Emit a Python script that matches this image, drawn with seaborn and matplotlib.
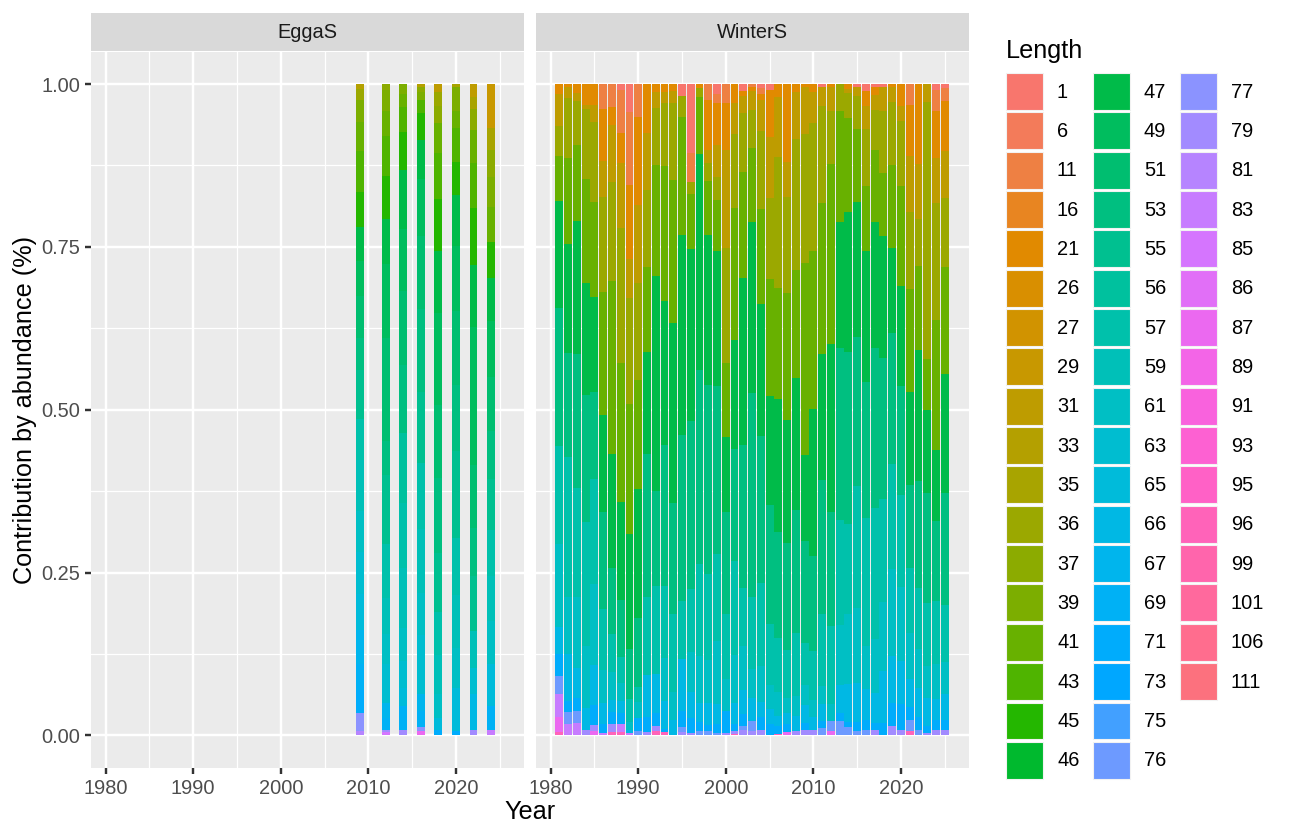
import numpy as np
import pandas as pd
import seaborn as sns
import matplotlib.pyplot as plt
from matplotlib.patches import Patch

plt.rcParams['font.family'] = ['Liberation Sans', 'DejaVu Sans']

# legend levels (factor order, first level is stacked on top)
length_levels = [1, 6, 11, 16, 21, 26, 27, 29, 31, 33, 35, 36, 37, 39, 41, 43, 45, 46,
                 47, 49, 51, 53, 55, 56, 57, 59, 61, 63, 65, 66, 67, 69, 71, 73, 75, 76,
                 77, 79, 81, 83, 85, 86, 87, 89, 91, 93, 95, 96, 99, 101, 106, 111]

# WinterS: % by length, one row per year
winter_lengths = [1, 11, 21, 31, 36, 41, 47, 53, 57, 61, 66, 71, 76, 79, 83, 87, 96]
winter_years = [1981, 1982, 1983, 1984, 1985, 1986, 1987, 1988, 1989, 1990,
                1991, 1992, 1993, 1994, 1995, 1996, 1997, 1998, 1999, 2000,
                2001, 2002, 2003, 2004, 2005, 2006, 2007, 2008, 2009, 2010,
                2011, 2012, 2013, 2014, 2015, 2016, 2017, 2018, 2019, 2020,
                2021, 2022, 2023, 2024, 2025]
winter_pct = [
    [0, 0, 1.5, 5.0, 4.6, 6.9, 16.5, 21.1, 15.1, 12.8, 4.1, 3.5, 2.7, 0, 3.5, 2.4, 0.5],
    [0, 0, 0.4, 1.8, 9.1, 13.3, 16.7, 16.0, 21.6, 8.7, 7.2, 1.7, 1.8, 0, 1.8, 0, 0],
    [0, 0, 1.4, 1.2, 6.7, 11.7, 20.3, 20.6, 16.7, 10.8, 4.6, 2.0, 1.9, 0, 1.9, 0, 0],
    [0, 0, 3.2, 0.7, 10.6, 16.1, 17.1, 19.6, 18.9, 9.6, 3.3, 0, 0, 0.9, 0, 0, 0],
    [0, 0, 3.2, 2.6, 12.3, 14.6, 14.6, 13.4, 16.2, 12.3, 6.2, 3.1, 0, 0.9, 0, 0.7, 0],
    [0, 3.8, 8.0, 5.5, 14.6, 18.9, 15.0, 14.9, 9.4, 5.0, 3.3, 1.3, 0, 0, 0.4, 0, 0],
    [0, 3.6, 2.7, 8.7, 15.3, 26.5, 17.5, 10.2, 5.9, 4.3, 1.8, 1.8, 0, 1.3, 0, 0, 0.5],
    [0.9, 6.6, 4.6, 10.0, 20.7, 21.3, 15.1, 8.7, 3.9, 2.8, 1.8, 1.8, 0, 0, 1.2, 0, 0.5],
    [4.3, 11.1, 11.3, 6.1, 16.2, 19.8, 17.6, 7.7, 3.5, 1.2, 0.5, 0, 0, 0, 0.4, 0, 0],
    [0, 5.0, 13.5, 12.0, 15.0, 16.6, 19.9, 10.5, 2.4, 2.4, 0, 2.0, 0.7, 0, 0, 0, 0],
    [0, 0, 7.5, 8.8, 11.8, 13.0, 15.7, 21.9, 11.9, 0, 6.5, 2.3, 0, 0.5, 0, 0, 0],
    [0, 0, 1.2, 2.5, 8.8, 17.0, 32.9, 14.7, 13.5, 0, 6.0, 1.9, 0, 0.8, 0, 0, 0.7],
    [0, 0, 1.2, 1.7, 9.6, 20.8, 22.0, 21.7, 11.0, 6.6, 4.3, 0.5, 0, 0, 0, 0, 0.5],
    [0, 0, 1.0, 1.9, 11.8, 22.0, 27.6, 17.1, 12.0, 4.2, 2.4, 0, 0, 0, 0, 0, 0],
    [1.9, 0, 0, 0, 3.1, 18.1, 30.7, 25.6, 8.8, 0, 8.0, 2.5, 0.8, 0.5, 0, 0, 0],
    [10.6, 4.4, 0, 0, 1.8, 8.5, 26.4, 25.7, 9.6, 6.2, 3.9, 2.3, 0, 0.4, 0, 0, 0],
    [0, 0, 0.6, 0, 1.4, 8.7, 33.2, 29.8, 14.1, 7.2, 2.9, 1.4, 0.7, 0, 0, 0, 0],
    [0, 2.4, 7.7, 2.0, 2.8, 8.2, 23.0, 29.1, 13.2, 6.5, 3.4, 0.9, 0.7, 0, 0, 0, 0],
    [1.6, 1.3, 6.4, 4.9, 3.6, 7.9, 20.7, 25.8, 13.3, 9.6, 3.1, 1.4, 0.4, 0, 0, 0, 0],
    [0, 2.9, 7.2, 15.0, 17.7, 11.4, 11.4, 15.6, 10.1, 4.9, 0, 3.3, 0, 0.4, 0, 0, 0],
    [0, 0, 2.9, 4.8, 11.3, 20.3, 16.6, 17.3, 14.3, 7.5, 3.1, 1.1, 0, 0.5, 0, 0, 0.2],
    [1.0, 0, 0.8, 2.6, 9.2, 16.4, 25.9, 22.1, 9.0, 6.8, 3.7, 1.8, 0.7, 0.8, 0, 0, 0],
    [0, 0.4, 0.7, 2.9, 5.8, 11.3, 26.3, 31.2, 11.1, 4.4, 3.6, 0, 1.5, 0.7, 0, 0, 0],
    [0.6, 0.9, 1.0, 4.7, 11.9, 14.6, 20.3, 22.5, 12.8, 5.5, 2.3, 1.9, 0, 0.9, 0, 0, 0],
    [0.9, 0, 7.2, 9.4, 12.5, 17.9, 16.7, 18.3, 9.3, 3.7, 2.4, 1.7, 0, 0, 0, 0, 0],
    [0, 0, 2.0, 9.2, 20.0, 17.1, 20.4, 16.2, 8.2, 3.7, 1.5, 1.3, 0, 0, 0, 0, 0.2],
    [0, 0, 12.0, 5.4, 14.7, 19.5, 18.8, 16.5, 7.3, 2.3, 1.8, 1.2, 0, 0, 0, 0.5, 0],
    [0, 0, 1.2, 7.3, 20.1, 16.6, 20.2, 18.8, 9.7, 3.1, 2.3, 0, 0, 0.7, 0, 0, 0],
    [0, 0, 0.4, 7.2, 19.8, 29.5, 13.2, 15.7, 6.4, 3.2, 2.7, 1.0, 0, 0.9, 0, 0, 0],
    [0, 0, 1.2, 4.8, 19.6, 24.4, 22.5, 14.7, 7.5, 2.6, 1.9, 0, 0, 0.9, 0, 0, 0],
    [0.5, 0, 0, 2.9, 14.8, 23.1, 19.4, 20.5, 11.0, 2.8, 2.6, 1.0, 1.2, 0, 0, 0, 0],
    [0, 0, 0.5, 3.7, 8.1, 27.6, 25.8, 17.5, 11.9, 2.7, 0, 0, 1.5, 0, 0, 0.7, 0],
    [0, 0, 0, 0, 4.1, 17.1, 19.3, 26.5, 16.0, 9.2, 4.3, 1.3, 2.2, 0, 0, 0, 0],
    [0, 0, 0.7, 0.7, 3.8, 14.5, 21.5, 26.3, 13.9, 10.7, 5.9, 0.7, 1.3, 0, 0, 0, 0],
    [0.5, 0, 0, 1.4, 5.0, 11.2, 20.7, 22.9, 18.7, 11.5, 6.0, 1.4, 0.7, 0, 0, 0, 0],
    [1.1, 0, 2.3, 3.5, 8.7, 10.1, 20.0, 20.9, 19.7, 6.5, 4.9, 1.4, 0.9, 0, 0, 0, 0],
    [0.4, 0, 1.2, 2.4, 6.1, 11.0, 19.4, 24.5, 20.0, 8.3, 4.6, 1.0, 0, 0.9, 0, 0, 0],
    [0.5, 0, 0, 3.6, 9.6, 9.6, 18.7, 21.6, 15.7, 10.6, 8.0, 1.9, 0, 0, 0, 0, 0],
    [0, 0, 0.4, 2.3, 9.8, 12.6, 13.1, 20.1, 16.2, 13.3, 7.2, 3.6, 0, 1.4, 0, 0, 0],
    [0, 0, 3.4, 2.2, 10.0, 15.4, 15.3, 16.7, 14.0, 11.4, 6.6, 3.9, 0, 0.9, 0, 0, 0],
    [0, 3.2, 7.9, 8.6, 11.8, 15.8, 14.2, 12.8, 10.0, 7.0, 4.4, 2.0, 1.6, 0, 0, 0, 0.7],
    [0, 0, 12.3, 8.4, 7.3, 12.9, 20.0, 16.5, 9.4, 5.9, 4.5, 1.9, 0.9, 0, 0, 0, 0],
    [0, 0, 0, 2.8, 39.4, 7.8, 12.8, 16.9, 9.7, 4.8, 4.4, 1.0, 0, 0.4, 0, 0, 0],
    [0.9, 3.3, 7.1, 7.0, 17.9, 20.0, 10.9, 12.3, 9.7, 5.3, 3.2, 1.5, 0, 0.9, 0, 0, 0],
    [0.6, 2.0, 7.6, 7.3, 10.6, 16.4, 18.3, 17.1, 8.8, 4.9, 4.1, 1.4, 0, 0.9, 0, 0, 0],
]

# EggaS: % by length for each survey year
egga_years = [2009, 2012, 2014, 2016, 2018, 2020, 2022, 2024]
egga_pct = [
    {33: 0.7, 36: 1.8, 39: 3.3, 41: 4.5, 43: 6.2, 45: 5.4, 47: 5.3, 49: 5.3, 51: 6.4,
     53: 5.0, 55: 7.4, 57: 6.4, 59: 7.8, 61: 6.2, 63: 6.5, 65: 5.6, 67: 5.2, 69: 4.0,
     71: 3.5, 77: 2.7, 81: 0.7},
    {37: 0.9, 39: 3.2, 41: 3.9, 43: 6.1, 45: 6.6, 47: 6.9, 49: 11.3, 51: 15.9, 53: 5.1,
     55: 10.6, 57: 8.3, 59: 5.6, 61: 4.6, 63: 5.9, 67: 2.3, 69: 1.8, 79: 0.4, 85: 0.5},
    {39: 1.5, 41: 2.0, 43: 3.9, 45: 5.8, 47: 9.1, 49: 9.5, 51: 11.3, 53: 10.5, 56: 10.7,
     57: 10.0, 59: 9.2, 61: 5.1, 63: 4.1, 65: 2.8, 69: 3.7, 79: 0.8},
    {33: 0.5, 37: 0.7, 39: 1.2, 43: 2.0, 45: 4.2, 47: 6.0, 49: 8.7, 51: 11.3, 53: 12.8,
     55: 10.9, 57: 10.1, 59: 9.9, 61: 6.5, 63: 9.0, 67: 2.6, 69: 2.5, 77: 0.6, 87: 0.7},
    {31: 1.2, 36: 2.2, 37: 2.6, 41: 4.6, 43: 7.0, 45: 8.0, 47: 9.6, 49: 14.1, 51: 11.3,
     53: 11.5, 55: 9.0, 57: 6.6, 59: 6.1, 61: 3.6, 65: 1.8, 71: 0.9},
    {35: 0.5, 39: 3.6, 41: 2.6, 43: 5.2, 45: 5.2, 47: 7.8, 49: 10.0, 51: 11.3, 53: 10.2,
     55: 13.3, 57: 8.7, 59: 8.2, 61: 6.1, 65: 6.6, 71: 0.7},
    {31: 2.0, 35: 1.9, 37: 3.2, 41: 5.0, 43: 6.9, 45: 8.7, 47: 9.5, 49: 21.2, 51: 9.7,
     53: 7.4, 55: 8.4, 59: 5.6, 63: 4.1, 66: 5.4, 79: 0.9},
    {29: 6.8, 35: 3.3, 37: 4.2, 39: 4.5, 41: 5.5, 45: 5.5, 47: 6.5, 49: 8.7, 51: 8.2,
     53: 7.5, 55: 7.7, 57: 7.2, 59: 6.9, 61: 6.6, 65: 6.4, 69: 3.6, 83: 0.9},
]


def hcl_hex(h, c=100.0, l=65.0):
    # polar Luv -> sRGB, same as R's hcl()
    hr = np.deg2rad(h)
    u, v = c * np.cos(hr), c * np.sin(hr)
    xn, yn, zn = 95.047, 100.0, 108.883
    den = xn + 15 * yn + 3 * zn
    un, vn = 4 * xn / den, 9 * yn / den
    y = yn * ((l + 16) / 116) ** 3
    up, vp = u / (13 * l) + un, v / (13 * l) + vn
    x = y * 9 * up / (4 * vp)
    z = y * (12 - 3 * up - 20 * vp) / (4 * vp)
    m = np.array([[3.240479, -1.537150, -0.498535],
                  [-0.969256, 1.875992, 0.041556],
                  [0.055648, -0.204043, 1.057311]])
    rgb = m @ np.array([x, y, z]) / 100
    rgb = np.where(rgb <= 0.0031308, 12.92 * rgb, 1.055 * np.abs(rgb) ** (1 / 2.4) - 0.055)
    rgb = np.clip(rgb, 0, 1)
    return '#%02x%02x%02x' % tuple(int(round(k * 255)) for k in rgb)


n = len(length_levels)
pal = {str(L): hcl_hex(15 + 360 * i / n) for i, L in enumerate(length_levels)}
hue_order = [str(L) for L in length_levels]

records = []
for yr, row in zip(winter_years, winter_pct):
    for L, p in zip(winter_lengths, row):
        if p > 0:
            records.append(('WinterS', yr, str(L), p))
for yr, d in zip(egga_years, egga_pct):
    for L, p in d.items():
        records.append(('EggaS', yr, str(L), p))
df = pd.DataFrame(records, columns=['Survey', 'Year', 'Length', 'pct'])

W, H = 1289, 838
fig = plt.figure(figsize=(W / 100, H / 100), dpi=100)


def box(x0, y0, x1, y1):
    return [x0 / W, 1 - y1 / H, (x1 - x0) / W, (y1 - y0) / H]


panels = [('EggaS', 91, 524), ('WinterS', 536, 969)]
top, bottom, strip_top = 51.5, 768, 13
small, big = 14.4, 18.2

for i, (name, x0, x1) in enumerate(panels):
    ax = fig.add_axes(box(x0, top, x1, bottom))
    sns.histplot(data=df[df.Survey == name], x='Year', hue='Length', weights='pct',
                 multiple='fill', discrete=True, shrink=0.9, hue_order=hue_order,
                 palette=pal, alpha=1, linewidth=0, edgecolor='none', legend=False, ax=ax)
    ax.set_xlim(1978.33, 2027.77)
    ax.set_ylim(-0.05, 1.05)
    ax.set_facecolor('#EBEBEB')
    for s in ax.spines.values():
        s.set_visible(False)
    ax.set_xticks([1980, 1990, 2000, 2010, 2020])
    ax.set_xticks([1985, 1995, 2005, 2015, 2025], minor=True)
    ax.set_yticks([0, 0.25, 0.5, 0.75, 1.0])
    ax.set_yticks([0.125, 0.375, 0.625, 0.875], minor=True)
    ax.grid(which='major', color='white', linewidth=1.74)
    ax.grid(which='minor', color='white', linewidth=0.87)
    ax.set_axisbelow(True)
    ax.tick_params(which='minor', length=0)
    ax.tick_params(which='major', length=4.5, width=1.74, color='#333333',
                   labelcolor='#4D4D4D', labelsize=small, pad=3.2)
    ax.set_xlabel('')
    ax.set_ylabel('')
    if i == 0:
        ax.set_yticklabels(['0.00', '0.25', '0.50', '0.75', '1.00'])
    else:
        ax.tick_params(axis='y', left=False, labelleft=False)

    strip = fig.add_axes(box(x0, strip_top, x1, top))
    strip.set_facecolor('#D9D9D9')
    strip.set_xticks([])
    strip.set_yticks([])
    for s in strip.spines.values():
        s.set_visible(False)
    strip.text(0.5, 0.5, name, ha='center', va='center', fontsize=small, color='#1A1A1A')

fig.text(530 / W, 1 - 812 / H, 'Year', ha='center', va='center', fontsize=big)
fig.text(25 / W, 1 - 410 / H, 'Contribution by abundance (%)', ha='center', va='center',
         rotation=90, fontsize=big)

# legend: 18 / 18 / 16 per column like ggplot, so pad with two blank slots
handles = [Patch(facecolor=pal[k], edgecolor='#F2F2F2', linewidth=0.8) for k in hue_order]
labels = list(hue_order)
handles += [Patch(facecolor='none', edgecolor='none')] * 2
labels += ['', '']
fig.text(1006 / W, 1 - 51 / H, 'Length', ha='left', va='center', fontsize=big)
fig.legend(handles, labels, loc='upper left', bbox_to_anchor=(1006 / W, 1 - 73 / H),
           ncol=3, frameon=False, fontsize=small,
           handlelength=1.85, handleheight=2.465, labelspacing=0.12, handletextpad=0.70,
           columnspacing=0.68, borderpad=0, borderaxespad=0)

fig.savefig('out.png', dpi=100)
